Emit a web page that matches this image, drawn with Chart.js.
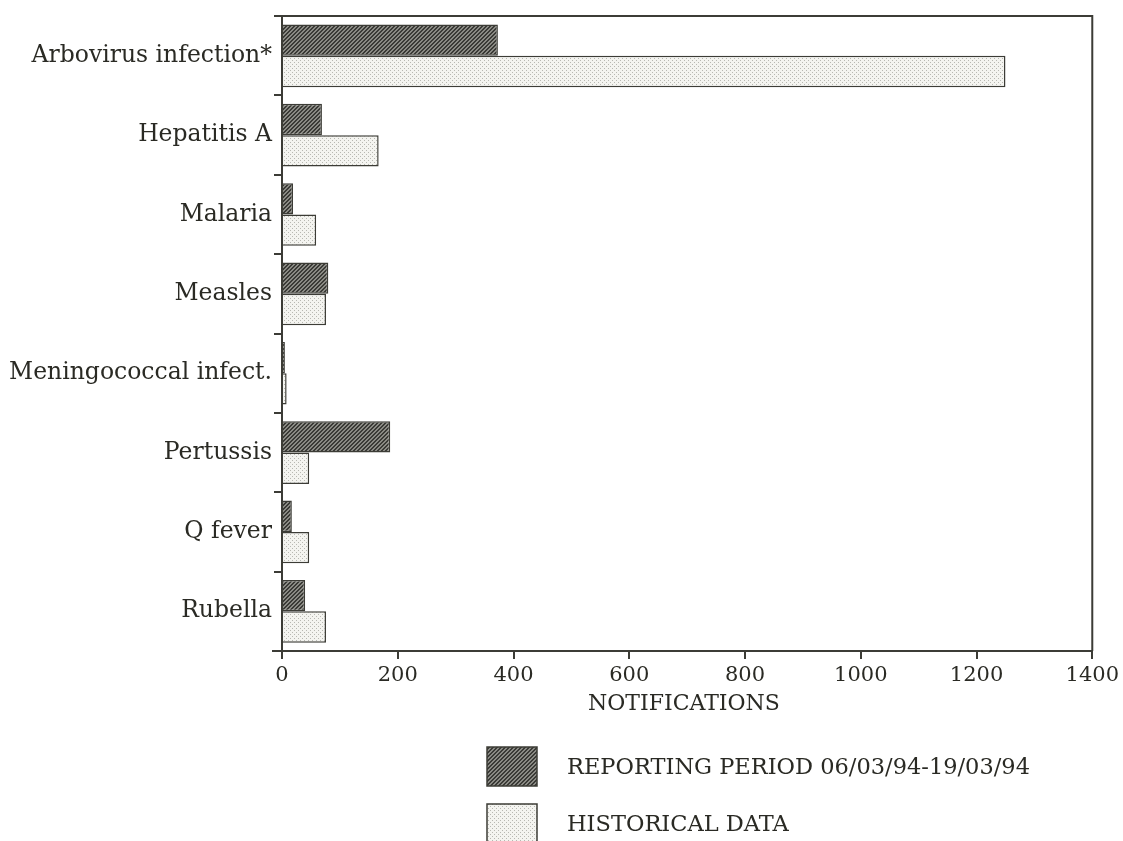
<!DOCTYPE html>
<html><head><meta charset="utf-8">
<script src="https://cdn.jsdelivr.net/npm/chart.js@4/dist/chart.umd.min.js"></script>
<style>html,body{margin:0;padding:0;background:#fff;}#wrap{width:1123px;height:841px;position:relative;}</style>
</head><body><div id="wrap"><canvas id="c" width="1123" height="841"></canvas></div>
<script>
const categories = ["Arbovirus infection*","Hepatitis A","Malaria","Measles","Meningococcal infect.","Pertussis","Q fever","Rubella"];
const reportingValues = [373, 69, 19, 80, 5, 187, 17, 40];
const historicalValues = [1250, 167, 59, 76, 8, 47, 47, 76];
const xTicks = [0,200,400,600,800,1000,1200,1400];
const seriesNames = ["REPORTING PERIOD 06/03/94-19/03/94","HISTORICAL DATA"];
const xTitle = "NOTIFICATIONS";

const FONT = "'DejaVu Serif',serif";
const TXT = '#2a2a24';

function makePattern(kind){
  const p = document.createElement('canvas');
  const ctx = p.getContext('2d');
  p.width=4;p.height=4;
  if(kind==='dark'){
    ctx.fillStyle='#8a8a84';ctx.fillRect(0,0,4,4);
    ctx.fillStyle='#3a3a36';
    for(let i=0;i<4;i++){ctx.fillRect(i,(3-i+4)%4,1,1);ctx.fillRect(i,(4-i+4)%4,1,1);}
  } else {
    ctx.fillStyle='#f4f4f0';ctx.fillRect(0,0,4,4);
    ctx.fillStyle='#b8b8b2';ctx.fillRect(0,0,1,1);ctx.fillRect(2,2,1,1);
  }
  return document.getElementById('c').getContext('2d').createPattern(p,'repeat');
}
const darkPat = makePattern('dark');
const lightPat = makePattern('light');

const boxPlugin = {
  id:'boxPlugin',
  afterDraw(chart){
    const {ctx, chartArea:a} = chart;
    ctx.save();
    ctx.strokeStyle='#3c3c36';ctx.lineWidth=2;
    ctx.beginPath();
    ctx.moveTo(a.left,a.bottom);ctx.lineTo(a.left,a.top);ctx.lineTo(a.right,a.top);ctx.lineTo(a.right,a.bottom);
    ctx.moveTo(a.left-10,a.bottom);ctx.lineTo(a.right,a.bottom);
    ctx.stroke();
    // x title
    ctx.font="22px "+FONT;ctx.fillStyle=TXT;ctx.textBaseline='middle';ctx.textAlign='center';
    ctx.fillText(xTitle,684,704);
    // legend
    const items=[{y:747,fill:darkPat},{y:804,fill:lightPat}];
    ctx.textAlign='left';
    ctx.font="22.5px "+FONT;
    items.forEach((it,i)=>{
      ctx.fillStyle=it.fill;ctx.fillRect(487,it.y,50,39);
      ctx.strokeStyle='#3c3c36';ctx.lineWidth=1.5;ctx.strokeRect(487,it.y,50,39);
      ctx.fillStyle=TXT;ctx.fillText(seriesNames[i],567,it.y+21);
    });
    ctx.restore();
  }
};

new Chart(document.getElementById('c'),{
  type:'bar',
  data:{labels:categories,datasets:[
    {label:seriesNames[0],data:reportingValues,backgroundColor:darkPat,borderColor:'#3c3c36',borderWidth:1.5,borderSkipped:'left',categoryPercentage:0.79,barPercentage:1.0},
    {label:seriesNames[1],data:historicalValues,backgroundColor:lightPat,borderColor:'#3c3c36',borderWidth:1.5,borderSkipped:'left',categoryPercentage:0.79,barPercentage:1.0}
  ]},
  options:{
    indexAxis:'y',responsive:false,animation:false,devicePixelRatio:1,
    layout:{padding:{left:0,right:30,top:13,bottom:0}},
    plugins:{legend:{display:false},tooltip:{enabled:false}},
    scales:{
      x:{min:0,max:1400,
        afterBuildTicks(s){s.ticks=xTicks.map(v=>({value:v}));},
        afterFit(s){s.height=190;},
        ticks:{color:TXT,font:{family:FONT,size:21},padding:4,callback:(v)=>String(v)},
        grid:{drawOnChartArea:false,color:'#3c3c36',tickLength:8,lineWidth:2},
        border:{display:false}
      },
      y:{
        afterFit(s){s.width=282;},
        ticks:{color:TXT,font:{family:FONT,size:23.5},padding:2},
        grid:{drawOnChartArea:false,offset:true,color:'#3c3c36',tickLength:8,lineWidth:2},
        border:{display:false}
      }
    }
  },
  plugins:[boxPlugin]
});
</script></body></html>
